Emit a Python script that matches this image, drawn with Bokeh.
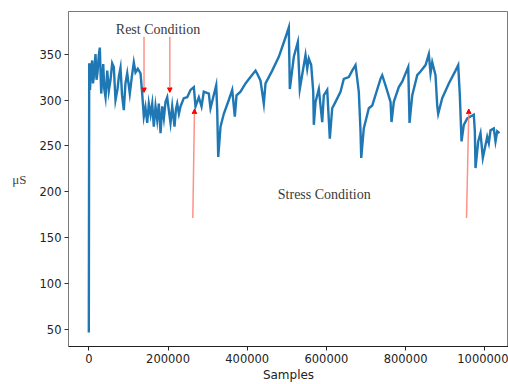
from bokeh.plotting import figure
from bokeh.models import Range1d, FixedTicker, BasicTickFormatter, Arrow, NormalHead
from bokeh.core.properties import value
from bokeh.embed import file_html
from bokeh.resources import INLINE

# ---- data ----
samples = [0, 1000, 3000, 5500, 8600, 10500, 12600, 16900, 19500, 22000, 25000, 27800, 31300, 36400,
           39000, 42200, 46500, 50500, 54800, 59000, 63100, 67400, 72500, 76000, 80000, 84000, 88400,
           92500, 97000, 103500, 108500, 113600, 117900, 123700, 130600, 134800, 138900,
           143000, 147500, 151500, 156000, 160100, 164100, 168400, 172700, 176800, 181100, 185400,
           189500, 193700, 198000, 202000, 206300, 210600, 216400, 220000, 223200, 227500, 231600,
           239900, 248500, 256800, 265200, 269400,
           277800, 284600, 290400, 303000, 307300, 321700, 324200, 326800, 332600, 340900, 353500,
           362100, 368700, 373000, 383100, 395700, 408300, 421000, 426000, 433600, 441900, 446200,
           463100, 479800, 496700, 505000, 507600, 517700, 527800, 532800, 547200, 551500, 555600,
           561600, 566700, 568200, 572500, 580800, 589400, 593400, 602000, 608600, 614600, 623000,
           635600, 643900, 656600, 665100, 673500, 681800, 686100, 687900, 694400, 707100, 715700,
           736600, 740900, 749200, 761900, 764400, 770200, 782800, 791400, 806600, 809900, 816700,
           829300, 837600, 850300, 858600, 862900, 867200, 875500, 879800, 882300, 892400, 909100,
           926000, 932800, 936900, 941200, 947000, 955600, 963900, 972200, 974800, 976500, 983300,
           989100, 995000, 1006000, 1010100, 1014400, 1022700, 1027000, 1031300, 1037100]
conductance = [47, 340, 311, 335, 343, 318, 325, 350, 322, 330, 348, 357, 307, 339,
               312, 303, 332, 310, 322, 340, 336, 300, 312, 326, 335, 305, 289,
               318, 329, 307, 325, 341, 330, 334, 329, 307, 282,
               292, 275, 296, 284, 296, 271, 293, 278, 296, 264, 293,
               280, 298, 303, 289, 275, 293, 271, 290, 296, 285, 293,
               302, 303, 311, 314, 293,
               303, 293, 309, 307, 291, 316, 289, 238, 271, 285, 300,
               311, 282, 305, 309, 318, 325, 332, 328, 321, 296, 318,
               332, 347, 368, 379, 312, 347, 363, 312, 349, 334, 345,
               338, 309, 273, 298, 312, 276, 305, 311, 258, 291, 298,
               309, 323, 325, 332, 338, 309, 266, 237, 269, 291, 294,
               323, 327, 316, 298, 276, 298, 314, 320, 336, 275, 305,
               327, 331, 338, 350, 329, 341, 327, 294, 285, 302, 318,
               332, 338, 305, 255, 273, 280, 282, 284, 266, 226, 255,
               264, 237, 260, 253, 267, 269, 255, 266, 264]

x_ticks = [0, 200000, 400000, 600000, 800000, 1000000]
y_ticks = [50, 100, 150, 200, 250, 300, 350]

rest_label = "Rest Condition"
rest_label_pos = (68200, 376.6)
rest_arrow_x = [139400, 204500]
rest_arrow_y = (368.8, 308.3)

stress_label = "Stress Condition"
stress_label_pos = (477200, 196.8)
stress_arrow_x_start = [262600, 953800]
stress_arrow_x_end = [266900, 959600]
stress_arrow_y = (171.7, 290.2)

# ---- figure ----
p = figure(width=508, height=384, output_backend="svg", toolbar_location=None,
           x_range=Range1d(-51300, 1059800), y_range=Range1d(31.8, 396.3),
           min_border_left=68, min_border_right=0, min_border_top=11, min_border_bottom=38)
p.background_fill_color = "white"
p.border_fill_color = "white"
p.grid.visible = False
p.outline_line_color = "#7a7a7a"
p.outline_line_width = 1

p.line(samples, conductance, line_color="#1f77b4", line_width=2.4, line_join="miter")

for ax in (p.xaxis[0], p.yaxis[0]):
    ax.major_tick_out = 4
    ax.major_tick_in = 0
    ax.minor_tick_line_color = None
    ax.major_label_text_font = "DejaVu Sans"
    ax.major_label_text_font_size = "11.5px"
    ax.major_label_text_color = "#222222"
    ax.major_label_standoff = 3
p.xaxis.ticker = FixedTicker(ticks=x_ticks)
p.yaxis.ticker = FixedTicker(ticks=y_ticks)
p.xaxis.formatter = BasicTickFormatter(use_scientific=False)
p.xaxis.axis_line_color = "#222222"
p.xaxis.major_tick_line_color = "#222222"
p.yaxis.axis_line_color = "#7a7a7a"
p.yaxis.major_tick_line_color = "#333333"

p.xaxis.axis_label = "Samples"
p.xaxis.axis_label_text_font = "DejaVu Sans"
p.xaxis.axis_label_text_font_size = "12px"
p.xaxis.axis_label_text_font_style = "normal"
p.xaxis.axis_label_text_color = "#222222"
p.xaxis.axis_label_standoff = 2

p.yaxis.axis_label = "μS"
p.yaxis.axis_label_orientation = "horizontal"
p.yaxis.axis_label_text_font = "Liberation Serif"
p.yaxis.axis_label_text_font_size = "13px"
p.yaxis.axis_label_text_font_style = "normal"
p.yaxis.axis_label_text_color = "#444444"
p.yaxis.axis_label_standoff = 10

# ---- annotations ----
for xa in rest_arrow_x:
    p.add_layout(Arrow(x_start=xa, y_start=rest_arrow_y[0], x_end=xa, y_end=rest_arrow_y[1],
                       line_color="#fa8072", line_alpha=0.85, line_width=1.5,
                       end=NormalHead(size=4.5, fill_color="red", line_color="red")))
for xs, xe in zip(stress_arrow_x_start, stress_arrow_x_end):
    p.add_layout(Arrow(x_start=xs, y_start=stress_arrow_y[0], x_end=xe, y_end=stress_arrow_y[1],
                       line_color="#fa8072", line_alpha=0.85, line_width=1.5,
                       end=NormalHead(size=4.5, fill_color="red", line_color="red")))

p.text(x=[rest_label_pos[0]], y=[rest_label_pos[1]], text=[rest_label],
       text_font=value("Liberation Serif"), text_font_size="14px", text_color="#3a3a3a",
       text_baseline="middle", text_align="left")
p.text(x=[stress_label_pos[0]], y=[stress_label_pos[1]], text=[stress_label],
       text_font=value("Liberation Serif"), text_font_size="14px", text_color="#3a3a3a",
       text_baseline="middle", text_align="left")

open("out.html", "w").write(file_html(p, INLINE))
